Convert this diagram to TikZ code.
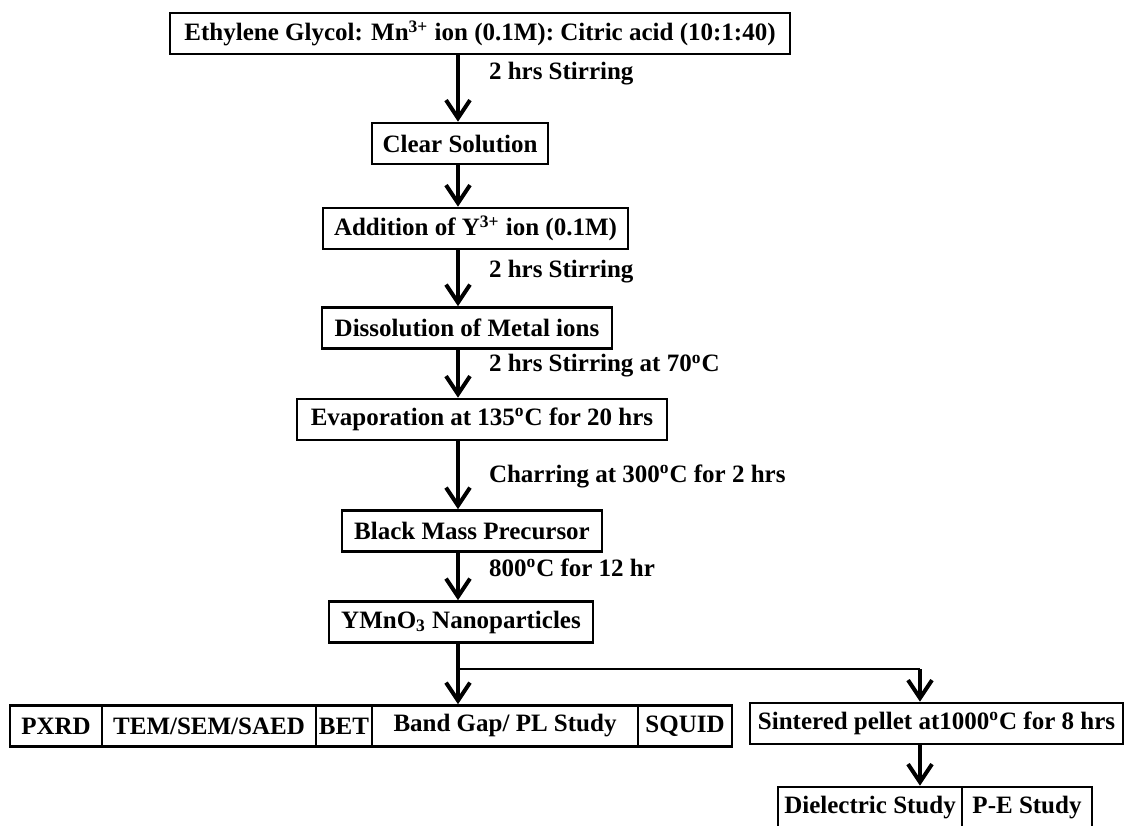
\documentclass[tikz,border=0pt]{standalone}
\usepackage{fontspec}
\setmainfont{Liberation Serif}
\usetikzlibrary{arrows.meta,positioning}
\newcommand{\dego}{\textsuperscript{o}}
\tikzset{
	stepbox/.style={draw, line width=1.3pt, inner sep=0pt, minimum height=20.5pt,
		font=\bfseries\fontsize{12.5}{15}\selectfont},
	note/.style={anchor=west, inner sep=0pt, font=\bfseries\fontsize{12.5}{15}\selectfont}
}

\begin{document}
\begin{tikzpicture}[x=0.5pt, y=-0.5pt, ->, >={Straight Barb[length=9pt,width=12pt]}, line width=2pt]
	\useasboundingbox (0,0) rectangle (1127,825);
	\coordinate (spine) at (458,0);
	\coordinate (tap) at (920,0);
	\coordinate (fork) at (458,669);
	% main column
	\node[stepbox, minimum width=310pt]	(mix) at (480, 33.5)  {Ethylene Glycol: Mn\textsuperscript{3+} ion (0.1M): Citric acid (10:1:40)};
	\node[stepbox, minimum width=88pt]	(clear) at (460, 143.5)  {Clear Solution};
	\node[stepbox, minimum width=152.5pt]	(addy) at (475.5, 228.5)  {Addition of Y\textsuperscript{3+} ion (0.1M)};
	\node[stepbox, minimum width=145pt]	(dissolve) at (467, 328)  {Dissolution of Metal ions};
	\node[stepbox, minimum width=185pt]	(evap) at (482, 419.5)  {Evaporation at 135\dego C for 20 hrs};
	\node[stepbox, minimum width=130pt]	(mass) at (472, 531)  {Black Mass Precursor};
	\node[stepbox, minimum width=132pt]	(ymno) at (461, 622)  {YMnO\textsubscript{3} Nanoparticles};
	% characterisation row
	\node[stepbox, minimum width=46pt]	(pxrd) at (56, 726)  {PXRD};
	\node[stepbox, minimum width=107pt]	(tem) at (209, 726)  {TEM/SEM/SAED};
	\node[stepbox, minimum width=28pt]	(bet) at (344, 726)  {BET};
	\node[stepbox, minimum width=133pt]	(band) at (505, 726)  {Band Gap/ PL Study};
	\node[stepbox, minimum width=47pt]	(squid) at (685, 726)  {SQUID};
	% pellet branch
	\node[stepbox, minimum width=186.5pt]	(sinter) at (936.5, 723.5)  {Sintered pellet at1000\dego C for 8 hrs};
	\node[stepbox, minimum width=92pt]	(diel) at (870, 807.5)  {Dielectric Study};
	\node[stepbox, minimum width=65pt]	(pe) at (1027, 807.5)  {P-E Study};
	% process notes
	\node[note]	(n1) at (487, 74)  {2 hrs Stirring};
	\node[note]	(n2) at (487, 272)  {2 hrs Stirring};
	\node[note]	(n3) at (487, 366)  {2 hrs Stirring at 70\dego C};
	\node[note]	(n4) at (487, 476)  {Charring at 300\dego C for 2 hrs};
	\node[note]	(n5) at (487, 568)  {800\dego C for 12 hr};
	% arrows
	\path (mix.south -| spine) edge (clear.north -| spine);
	\path (clear.south -| spine) edge (addy.north -| spine);
	\path (addy.south -| spine) edge (dissolve.north -| spine);
	\path (dissolve.south -| spine) edge (evap.north -| spine);
	\path (evap.south -| spine) edge (mass.north -| spine);
	\path (mass.south -| spine) edge (ymno.north -| spine);
	\draw (ymno.south -| spine) -- (band.north -| spine);
	\draw[-, line width=1.4pt] (fork) -- (fork -| tap);
	\path (fork -| tap) edge (sinter.north -| tap);
	\draw (sinter.south -| tap) -- (diel.north -| tap);
\end{tikzpicture}
\end{document}
